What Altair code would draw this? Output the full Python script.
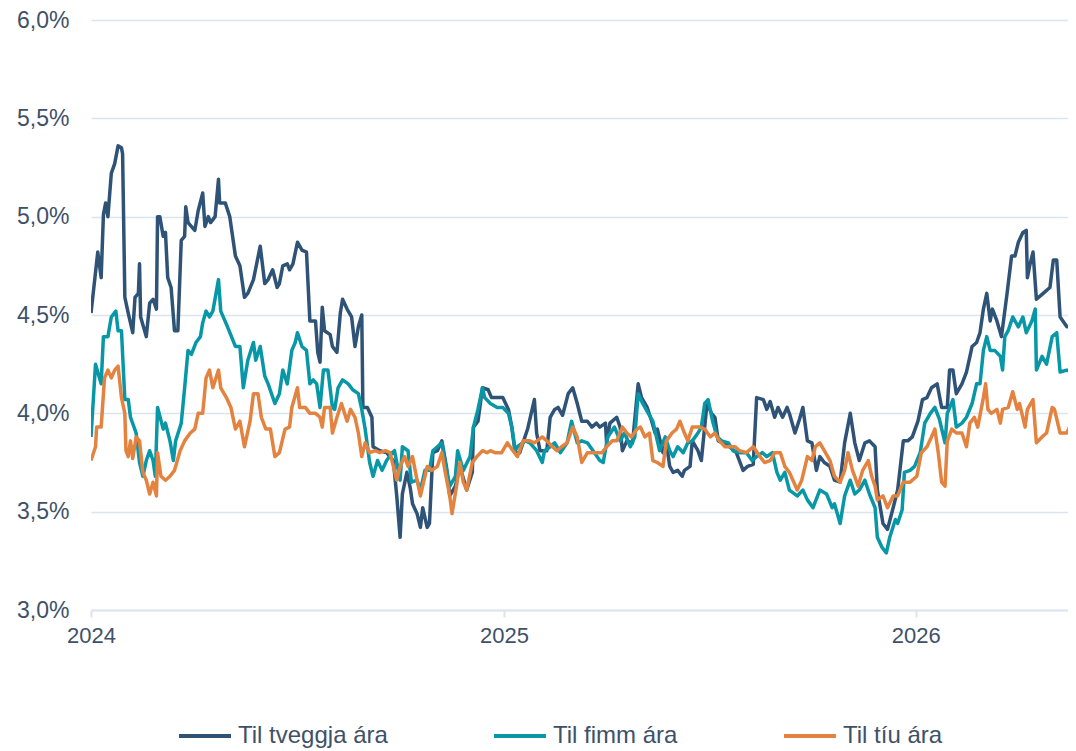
import altair as alt
import pandas as pd

series_names = ["Til tveggja ára", "Til fimm ára", "Til tíu ára"]
colors = ["#2f5377", "#0897a7", "#e3833f"]

# day offsets from 2024-01-01 and yields (%)
days_2y = [0,6,9,11,13,15,18,21,24,27,28,30,33,37,39,42,43,44,49,52,55,58,59,61,64,66,68,71,74,77,80,83,84,86,92,95,99,101,104,106,110,113,114,119,123,128,132,136,139,144,150,154,157,161,165,167,170,174,176,179,183,187,191,194,199,201,203,205,207,212,214,218,221,223,227,231,234,237,240,241,245,249,250,256,262,268,271,274,276,280,283,285,289,292,294,298,300,303,307,311,315,318,323,327,333,338,339,343,347,352,355,360,365,370,373,376,380,387,393,395,398,404,407,411,414,418,423,427,431,435,440,444,448,451,456,457,460,466,469,471,475,480,485,488,493,497,500,502,507,510,513,516,520,524,526,531,533,538,541,546,550,553,556,560,566,572,578,582,587,590,596,599,602,606,609,613,617,619,624,628,631,635,639,643,646,650,655,659,664,668,673,677,681,686,690,695,697,702,706,711,715,720,724,728,733,737,741,745,750,754,759,761,764,767,772,776,781,785,788,791,794,797,799,803,807,812,816,819,822,826,829,830,832,835,838,844,850,853,856,859,865,869,871,873]
vals_2y = [4.51,4.82,4.69,5.01,5.07,5.00,5.22,5.27,5.36,5.35,5.32,4.59,4.51,4.41,4.59,4.61,4.76,4.49,4.39,4.56,4.58,4.53,5.00,5.00,4.90,4.92,4.69,4.64,4.42,4.42,4.88,4.90,5.05,4.97,4.93,5.03,5.12,4.95,5.00,4.97,5.00,5.19,5.07,5.07,5.00,4.80,4.75,4.59,4.61,4.68,4.85,4.66,4.68,4.73,4.64,4.66,4.75,4.76,4.73,4.76,4.87,4.83,4.82,4.47,4.47,4.31,4.26,4.54,4.42,4.40,4.34,4.31,4.51,4.58,4.53,4.49,4.34,4.44,4.50,4.03,4.03,3.98,3.83,3.81,3.80,3.76,3.58,3.37,3.59,3.70,3.62,3.54,3.49,3.42,3.52,3.42,3.44,3.80,3.81,3.86,3.73,3.58,3.63,3.73,3.61,3.70,3.93,3.96,4.13,4.12,4.08,4.08,4.08,4.02,3.93,3.80,3.80,3.92,4.07,3.90,3.81,3.81,3.98,4.02,4.03,3.99,4.10,4.13,4.05,3.96,3.96,3.93,3.95,3.93,3.95,3.85,3.95,3.98,3.93,3.81,3.86,3.85,4.15,4.08,4.03,3.96,3.90,3.92,3.80,3.85,3.73,3.70,3.71,3.68,3.71,3.73,3.86,3.81,3.76,4.05,4.00,3.98,3.86,3.85,3.83,3.80,3.71,3.73,3.74,4.08,4.07,4.02,4.06,3.98,4.03,3.98,4.03,4.00,3.90,3.97,4.03,3.86,3.85,3.71,3.78,3.75,3.73,3.66,3.65,3.85,4.00,3.85,3.76,3.85,3.86,3.83,3.61,3.44,3.41,3.52,3.61,3.86,3.86,3.88,3.96,4.07,4.08,4.13,4.15,4.03,4.03,4.22,4.22,4.10,4.15,4.21,4.34,4.36,4.41,4.53,4.61,4.47,4.53,4.47,4.39,4.61,4.80,4.80,4.87,4.92,4.93,4.69,4.75,4.82,4.58,4.61,4.64,4.78,4.78,4.49,4.44,4.44,4.34,4.35]

days_5y = [0,4,9,11,15,18,22,24,27,30,33,35,40,43,46,49,52,55,57,59,64,66,70,73,75,80,83,86,89,93,97,99,102,105,108,113,115,121,128,132,135,139,144,146,150,154,157,163,167,170,174,178,181,183,187,191,194,197,200,203,206,210,214,216,219,223,228,232,237,240,243,247,250,254,258,262,267,269,274,276,281,284,289,292,296,300,303,307,311,314,318,323,325,330,336,339,343,347,349,354,360,365,370,373,376,378,385,389,395,400,402,407,411,416,422,426,431,435,440,445,451,454,458,464,469,473,478,482,485,489,494,498,502,504,509,513,516,520,525,529,533,538,541,544,547,551,555,559,565,569,575,581,586,590,595,599,604,608,611,615,619,626,631,635,640,646,652,657,659,664,668,673,677,681,686,690,695,697,701,705,708,713,715,719,721,726,730,735,739,744,748,752,757,759,764,767,772,776,781,785,788,791,794,797,801,806,808,810,813,817,822,826,829,834,837,838,843,847,852,856,859,865,869,872]
vals_5y = [3.88,4.25,4.15,4.39,4.39,4.49,4.52,4.42,4.42,4.07,4.07,3.98,3.90,3.75,3.68,3.76,3.81,3.76,3.68,4.03,3.92,3.95,3.86,3.76,3.86,3.95,4.13,4.32,4.30,4.36,4.39,4.46,4.52,4.49,4.52,4.68,4.52,4.44,4.34,4.34,4.13,4.27,4.36,4.27,4.34,4.19,4.15,4.05,4.10,4.22,4.15,4.32,4.36,4.41,4.34,4.32,4.15,4.17,4.15,4.03,4.22,4.22,4.03,4.02,4.13,4.17,4.15,4.12,4.10,4.02,3.92,3.75,3.68,3.76,3.71,3.76,3.80,3.81,3.66,3.83,3.81,3.65,3.66,3.61,3.71,3.71,3.81,3.83,3.85,3.75,3.63,3.68,3.81,3.71,3.78,3.93,4.02,4.13,4.08,4.05,4.03,4.03,4.00,3.93,3.81,3.83,3.86,3.85,3.81,3.75,3.81,3.83,3.85,3.80,3.85,3.96,3.85,3.86,3.85,3.81,3.76,3.75,3.88,3.93,3.86,3.90,3.83,3.88,4.10,4.05,4.00,3.96,3.86,3.81,3.88,3.81,3.78,3.83,3.80,3.85,3.86,3.90,3.93,4.05,4.07,3.96,3.88,3.86,3.85,3.81,3.80,3.80,3.76,3.78,3.80,3.78,3.80,3.70,3.66,3.70,3.61,3.58,3.61,3.56,3.52,3.61,3.59,3.52,3.54,3.44,3.58,3.66,3.59,3.61,3.66,3.59,3.52,3.37,3.32,3.29,3.37,3.46,3.44,3.51,3.70,3.71,3.73,3.80,3.95,4.00,4.03,3.97,3.85,4.00,4.07,3.93,3.95,3.98,4.05,4.15,4.15,4.32,4.39,4.32,4.32,4.29,4.22,4.39,4.42,4.49,4.44,4.49,4.41,4.47,4.53,4.22,4.29,4.25,4.39,4.41,4.21,4.22,4.21,4.10]

days_10y = [0,4,5,9,12,15,18,21,24,27,30,31,33,35,37,40,43,46,49,52,55,58,59,62,66,70,74,79,83,88,92,95,99,102,105,108,113,115,120,124,128,132,136,141,144,148,151,155,159,163,167,172,176,178,183,185,190,194,199,203,205,207,212,214,218,222,227,230,234,237,240,243,247,252,256,261,265,268,271,274,278,281,285,289,292,294,298,302,307,311,314,318,320,324,327,330,333,338,342,347,351,354,358,364,369,374,378,383,389,393,400,404,409,413,417,422,427,431,435,440,444,448,453,457,462,466,471,475,479,484,487,491,495,498,502,507,510,515,519,522,526,529,533,540,544,549,553,557,562,566,571,575,581,587,593,597,602,606,611,615,619,626,630,635,639,642,646,650,655,659,664,668,671,675,680,684,689,692,695,697,702,706,711,715,720,726,732,736,741,745,748,751,754,757,759,763,767,772,776,779,783,786,791,793,795,798,803,806,808,813,817,821,823,828,830,835,838,843,847,852,854,859,865,869,872]
vals_10y = [3.76,3.83,3.93,3.93,4.18,4.22,4.18,4.22,4.24,4.08,4.00,3.81,3.78,3.86,3.77,3.88,3.86,3.70,3.66,3.59,3.65,3.58,3.80,3.68,3.66,3.68,3.71,3.81,3.86,3.90,3.92,4.00,4.00,4.18,4.22,4.13,4.22,4.13,4.08,4.03,3.92,3.96,3.83,3.96,4.10,4.10,3.98,3.92,3.92,3.78,3.80,3.92,3.93,4.03,4.13,4.03,4.03,4.00,4.00,3.98,3.93,4.03,4.03,3.90,3.98,4.05,3.96,4.02,3.98,3.90,3.78,3.85,3.80,3.81,3.80,3.81,3.80,3.73,3.66,3.73,3.78,3.73,3.78,3.66,3.58,3.63,3.73,3.71,3.73,3.80,3.70,3.58,3.49,3.63,3.75,3.65,3.61,3.75,3.78,3.81,3.80,3.81,3.80,3.80,3.85,3.81,3.78,3.86,3.86,3.85,3.88,3.86,3.83,3.81,3.83,3.85,3.93,3.88,3.75,3.80,3.80,3.80,3.80,3.83,3.86,3.86,3.93,3.90,3.88,3.92,3.93,3.88,3.90,3.76,3.75,3.73,3.86,3.90,3.92,3.96,3.90,3.86,3.93,3.93,3.92,3.88,3.90,3.86,3.83,3.83,3.83,3.81,3.80,3.83,3.78,3.75,3.76,3.80,3.80,3.73,3.70,3.61,3.66,3.78,3.76,3.83,3.85,3.81,3.76,3.68,3.65,3.71,3.80,3.71,3.63,3.71,3.76,3.68,3.63,3.56,3.58,3.52,3.58,3.58,3.65,3.65,3.68,3.80,3.83,3.88,3.92,3.80,3.65,3.63,3.86,3.92,3.90,3.90,3.83,3.95,3.98,3.93,4.08,4.15,4.02,4.00,4.02,3.95,4.02,4.03,4.11,4.02,4.05,3.93,4.02,4.07,3.85,3.88,3.90,4.03,4.02,3.90,3.90,3.95,3.90]

y_ticks = [3.0, 3.5, 4.0, 4.5, 5.0, 5.5, 6.0]
x_tick_years = [2024, 2025, 2026]

start = pd.Timestamp("2024-01-01")
frames = []
for name, d, v in zip(series_names, [days_2y, days_5y, days_10y], [vals_2y, vals_5y, vals_10y]):
    frames.append(pd.DataFrame({
        "date": start + pd.to_timedelta(d, unit="D"),
        "value": v,
        "series": name,
    }))
df = pd.concat(frames, ignore_index=True)

text_color = "#3e5168"
grid_color = "#dce5ee"

chart = alt.Chart(df).mark_line(strokeWidth=3.5, strokeJoin="round", clip=True).encode(
    x=alt.X(
        "date:T",
        scale=alt.Scale(
            domain=[alt.DateTime(year=2024, month=1, date=1), alt.DateTime(year=2026, month=5, date=16)],
            nice=False,
        ),
        axis=alt.Axis(
            values=[alt.DateTime(year=yr, month=1, date=1) for yr in x_tick_years],
            format="%Y", title=None, grid=False, labelFlush=False,
            domainColor=grid_color, domainWidth=2,
            tickColor=grid_color, tickWidth=2, tickSize=7,
            labelPadding=8, labelFontSize=22, labelColor=text_color,
        ),
    ),
    y=alt.Y(
        "value:Q",
        scale=alt.Scale(domain=[3.0, 6.0], nice=False, zero=False),
        axis=alt.Axis(
            values=y_ticks, title=None, domain=False, ticks=False,
            labelExpr="replace(format(datum.value, '.1f'), '.', ',') + '%'",
            gridColor=grid_color, gridWidth=1.5,
            labelPadding=22, labelFontSize=23, labelColor=text_color,
        ),
    ),
    color=alt.Color(
        "series:N",
        scale=alt.Scale(domain=series_names, range=colors),
        legend=alt.Legend(
            title=None, orient="none", legendX=86, legendY=688,
            direction="horizontal", symbolType="stroke",
            symbolStrokeWidth=4, symbolSize=2700,
            labelFontSize=24, labelColor=text_color, labelOffset=5,
            columnPadding=98,
        ),
    ),
).properties(
    width=977, height=590,
    padding={"left": 8, "top": 1, "right": 0, "bottom": 0},
).configure(
    font="Liberation Sans",
).configure_view(stroke=None)

chart.save("out.html", embed_options={"renderer": "svg", "actions": False})
